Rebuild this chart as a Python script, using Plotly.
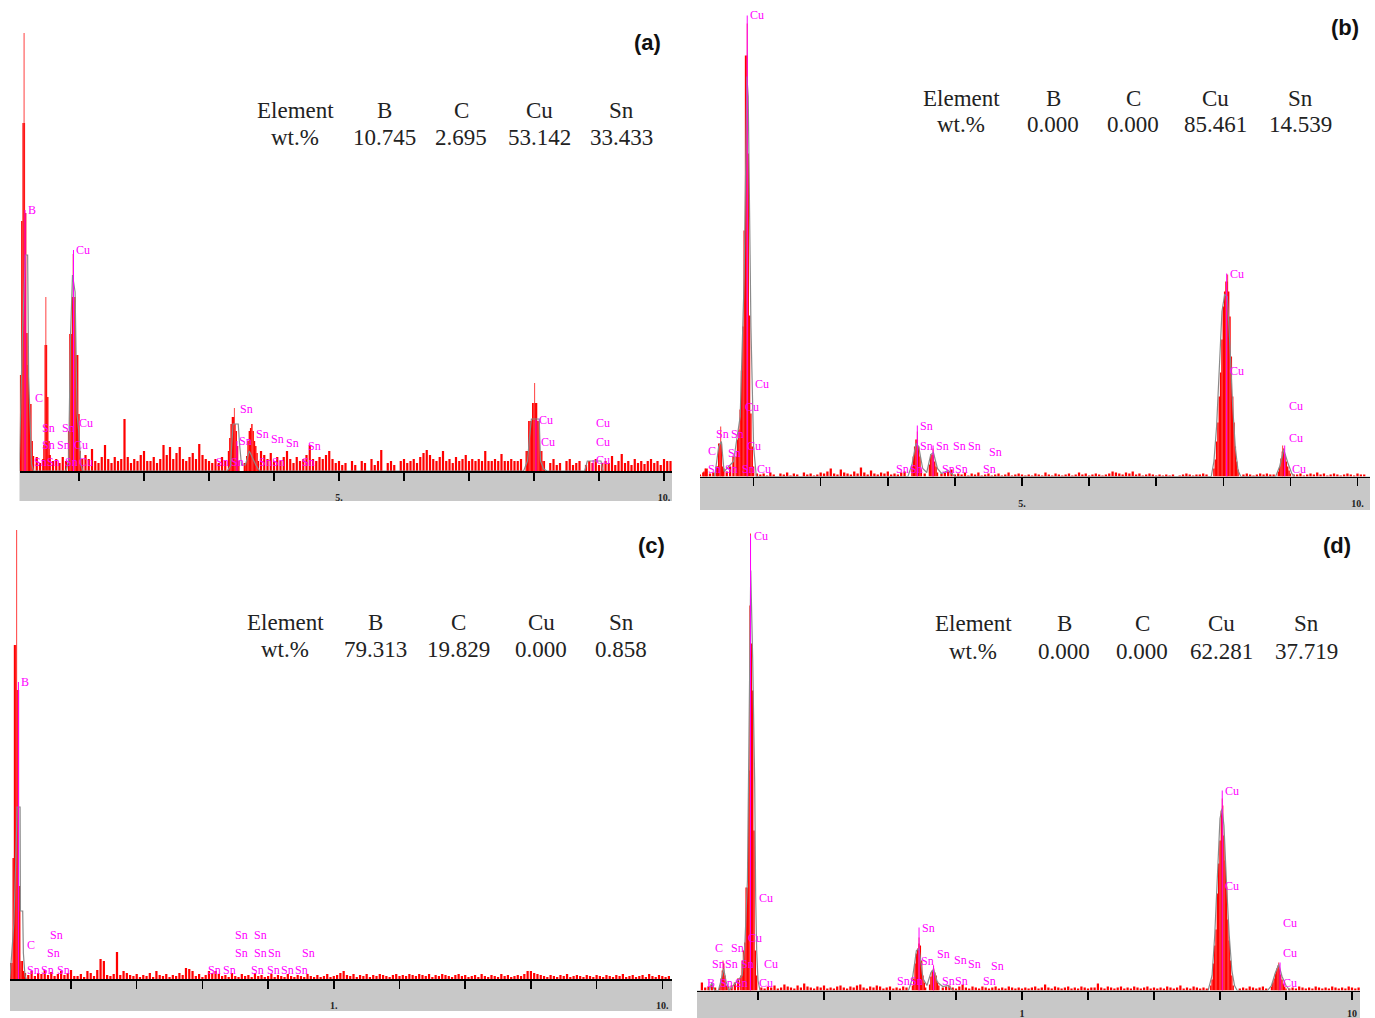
import numpy as np
import plotly.graph_objects as go

W, H = 1375, 1018

# ---------------- common data ----------------
BG_START_KEV = 0.10
BG_STEP_KEV = 0.05
tick_keV = [1, 2, 3, 4, 5, 6, 7, 8, 9, 10]
elements = ["B", "C", "Cu", "Sn"]
wt_a = ["10.745", "2.695", "53.142", "33.433"]
wt_b = ["0.000", "0.000", "85.461", "14.539"]
wt_c = ["79.313", "19.829", "0.000", "0.858"]
wt_d = ["0.000", "0.000", "62.281", "37.719"]
ticktext_a = ["", "", "", "", "5.", "", "", "", "", "10."]
ticktext_b = ["", "", "", "", "5.", "", "", "", "", "10."]
ticktext_c = ["", "", "", "", "1.", "", "", "", "", "10."]
ticktext_d = ["", "", "", "", "1", "", "", "", "", "10"]

# ---------------- panel (a) ----------------
a_bg = ([0,0,0,0,0,14,8,12,0,16,10,12,8,14,10,0,0,0,0,12] +
        [16,12,22,10,8,14,26,12,8,14,10,12,52,14,8,12,10,16,20,10] +
        [10,14,8,12,26,16,24,12,18,24,12,10,14,18,12,27,16,12,10,8] +
        [12,8,14,10,0,0,0,0,0,8,0,0,0,0,20,16,12,18,10,14] +
        [10,14,20,12,8,14,10,12,16,26,12,10,14,12,16,20,12,8,10,6] +
        [8,0,10,6,0,10,8,0,12,6,10,21,0,8,10,6,0,10,12,8] +
        [10,12,8,14,18,21,16,12,10,14,20,10,12,8,14,10,12,16,10,12] +
        [10,12,10,20,10,10,12,10,17,10,10,12,10,10,12,0,0,0,0,0] +
        [0,0,0,8,12,6,8,0,10,12,6,8,10,0,6,10,8,12,6,8] +
        [10,8,15,6,10,17,8,10,6,12,8,10,7,10,12,8,10,6,12,10] + [10])
a_pk_keV = [0.10,0.12,0.14,0.16,0.18,0.20,0.22,0.24,0.26,0.28,0.30,
            0.46,0.48,0.50,0.52,0.54,
            0.84,0.86,0.88,0.90,0.92,0.94,0.96,0.98,1.00,1.02,
            3.30,3.32,3.34,3.36,3.38,3.40,3.42,3.44,3.46,
            3.58,3.60,3.62,3.64,3.66,3.68,3.70,3.72,3.74,3.76,
            7.88,7.90,7.92,7.94,7.96,7.98,8.00,8.02,8.04,8.06,8.08,8.10,8.12,8.14,8.16]
a_pk_cnt = [96,250,348,348,258,138,106,67,67,30,15,
            26,126,126,74,30,
            40,137,137,174,174,174,116,116,57,20,
            20,33,47,54,54,47,40,25,10,
            15,30,40,43,47,40,30,25,18,10,
            20,20,50,50,50,68,68,68,68,50,50,20,20,10,10]
a_spk_keV = [0.155, 0.49, 0.91, 3.39, 8.01]
a_spk_cnt = [438, 174, 217, 63, 88]
a_fit_keV = [0.08,0.10,0.13,0.175,0.21,0.225,0.24,0.27,0.30,
             0.80,0.84,0.87,0.90,0.94,0.97,1.00,1.03,1.06,
             3.28,3.33,3.37,3.45,3.47,3.50,3.56,3.62,3.72,3.78,
             7.84,7.90,7.93,7.96,8.08,8.10,8.15,8.20,
             8.78,8.82,9.03,9.06]
a_fit_cnt = [0,70,137,216,216,94,57,7,0,
             0,10,137,196,179,57,37,6,0,
             0,5,47,47,27,6,6,20,6,0,
             0,10,33,52,52,10,2,0,
             0,10,10,0]
a_lbl_txt = ["B","C","Cu","Cu","Sn","Sn","Sn","Sn","Cu","Sn","Sn","Sn","Cu",
             "Sn","Sn","Sn","Sn","Sn","Sn","Sn","Sn","Sn","Sn","Sn",
             "Cu","Cu","Cu","Cu","Cu"]
a_lbl_keV = [0.17,0.27,0.915,0.95,0.39,0.69,0.385,0.615,0.87,0.26,0.46,0.74,0.95,
             3.43,3.42,3.67,3.91,4.14,4.47,3.06,3.29,3.72,3.93,4.38,
             8.03,8.06,8.91,8.91,8.91]
a_lbl_cnt = [261,73,221,48,43,43,26,26,26,9,9,9,9,
             62,30,37,32,28,25,9,9,9,9,9,
             51,29,48,29,11]
a_line_keV = [0.17, 0.915, 3.43, 8.03, 8.91]
a_line_cnt = [261, 221, 30, 51, 11]

# ---------------- panel (b) ----------------
b_bg = ([0,0,2,4,8,3,4,10,0,8,5,10,20,0,0,0,0,0,0,3] +
        [2,3,1,4,2,0,3,2,4,1,3,2,0,4,2,3,1,2,4,3] +
        [5,8,3,2,7,4,3,2,5,3,9,4,2,6,3,2,4,3,5,2] +
        [3,2,4,5,0,0,0,0,0,3,0,0,0,0,3,4,5,7,2,3] +
        [2,4,1,3,2,4,1,2,3,1,2,3,1,2,4,1,2,3,2,1] +
        [2,1,3,2,1,4,2,1,3,2,1,2,3,1,2,4,2,3,1,2] +
        [3,2,1,2,3,5,4,3,2,4,3,5,2,3,1,2,3,2,1,2] +
        [1,2,1,2,0,1,2,3,2,1,2,2,3,2,0,0,0,0,0,0] +
        [0,0,0,0,2,3,2,1,2,3,2,3,2,2,0,0,0,0,0,2] +
        [2,3,1,2,3,2,4,2,3,1,2,3,2,1,2,3,2,1,3,2] + [2])
b_pk_keV = [0.26,0.28,0.30,
            0.46,0.48,0.50,0.52,0.54,
            0.74,0.76,0.78,0.80,0.82,0.84,0.86,0.88,0.90,0.92,0.94,0.96,0.98,1.00,
            3.36,3.38,3.40,3.42,3.44,3.46,3.48,3.50,
            3.62,3.64,3.66,3.68,3.70,3.72,3.74,
            7.86,7.88,7.90,7.92,7.94,7.96,7.98,8.00,8.02,8.04,8.06,8.08,8.10,8.12,8.14,8.16,8.18,8.20,8.22,
            8.82,8.84,8.86,8.88,8.90,8.92,8.94,8.96,8.98,9.00]
b_pk_cnt = [5,8,5,
            10,33,33,33,10,
            20,37,47,67,106,150,246,421,421,323,161,63,30,10,
            10,20,30,37,37,30,20,7,
            12,22,22,22,15,10,4,
            8,17,35,54,80,104,137,170,185,195,195,185,160,120,80,54,30,15,7,
            5,10,18,25,28,22,15,10,6,3]
b_spk_keV = [0.51, 0.905, 3.44, 3.675, 8.065, 8.885]
b_spk_cnt = [50, 453, 45, 28, 202, 31]
b_fit_keV = [0.42,0.48,0.52,0.56,
             0.70,0.80,0.86,0.90,0.92,0.96,1.00,1.04,
             3.30,3.36,3.42,3.46,3.52,3.58,3.64,3.68,3.74,3.80,3.90,3.96,4.00,
             7.82,7.86,7.90,7.94,7.98,8.02,8.06,8.10,8.14,8.18,8.22,8.26,
             8.78,8.84,8.90,8.96,9.02,9.06]
b_fit_cnt = [0,30,35,5,
             15,60,200,400,380,150,30,0,
             0,12,33,30,8,4,22,24,8,3,6,2,0,
             0,15,50,110,165,182,180,130,70,28,6,0,
             0,10,27,14,3,0]
b_lbl_txt = ["Cu","Cu","Cu","Sn","Sn","C","Sn","Cu","Sn","Sn","Sn","Cu",
             "Sn","Sn","Sn","Sn","Sn","Sn","Sn","Sn","Sn","Sn","Sn",
             "Cu","Cu","Cu","Cu","Cu"]
b_lbl_keV = [0.905,0.97,0.82,0.39,0.62,0.28,0.58,0.85,0.28,0.53,0.78,1.00,
             3.44,3.44,3.68,3.93,4.15,4.47,3.08,3.29,3.76,3.96,4.38,
             8.05,8.05,8.93,8.93,8.98]
b_lbl_cnt = [461,93,70,43,43,26,24,31,8,8,8,8,
             51,31,31,31,31,25,8,8,8,8,8,
             203,106,71,39,8]
b_line_keV = [0.905, 3.44, 3.675, 8.05, 8.915]
b_line_cnt = [461, 51, 31, 203, 31]

# ---------------- panel (c) ----------------
c_bg = ([0,0,0,0,6,4,8,3,6,5,9,4,7,3,5,8,4,6,9,3] +
        [3,5,2,8,6,3,9,20,18,4,3,5,27,4,8,6,4,3,5,2] +
        [4,3,6,2,8,4,3,5,2,4,3,6,4,11,10,8,3,5,2,4] +
        [8,6,8,5,3,4,2,6,3,2,5,3,4,2,6,3,4,2,3,5] +
        [2,4,3,2,5,3,2,4,3,2,5,3,2,4,2,3,5,2,3,4] +
        [6,8,4,3,5,2,4,3,5,2,4,3,5,4,3,2,4,5,3,4] +
        [3,5,4,3,5,4,3,5,2,4,3,5,4,3,2,4,5,3,4,2] +
        [3,4,2,5,3,2,4,3,2,5,3,4,2,3,4,3,5,8,8,6] +
        [5,4,3,2,4,3,2,4,3,5,2,3,4,3,2,4,3,2,4,3] +
        [2,4,3,2,4,3,5,2,3,4,2,3,4,2,5,3,2,4,3,2] + [3])
c_pk_keV = [0.08,0.10,0.12,0.14,0.16,0.18,0.20,0.22,0.24,0.26,0.28]
c_pk_cnt = [16,16,121,334,334,289,289,93,18,18,8]
c_spk_keV = [0.173]
c_spk_cnt = [449]
c_fit_keV = [0.07,0.09,0.13,0.16,0.18,0.225,0.23,0.265,0.275,0.30,0.32]
c_fit_cnt = [0,20,55,120,172,172,68,68,26,3,0]
c_lbl_txt = ["B","C","Sn","Sn","Sn","Sn","Sn",
             "Sn","Sn","Sn","Sn","Sn","Sn","Sn","Sn","Sn","Sn","Sn","Sn"]
c_lbl_keV = [0.20,0.285,0.64,0.59,0.285,0.50,0.74,
             3.45,3.74,3.45,3.74,3.95,4.47,3.04,3.27,3.69,3.94,4.15,4.36]
c_lbl_cnt = [297,34,44,26,9,9,9,
             44,44,26,26,26,26,9,9,9,9,9,9]
c_line_keV = [0.20]
c_line_cnt = [297]

# ---------------- panel (d) ----------------
d_bg = ([0,8,3,4,6,3,0,0,0,4,5,8,12,0,0,0,0,0,0,3] +
        [2,4,3,5,2,3,6,4,3,2,5,3,7,4,3,2,4,3,5,2] +
        [3,2,4,5,3,2,4,3,5,6,3,2,4,3,5,4,2,3,4,2] +
        [3,2,4,3,0,0,0,0,0,0,0,0,0,0,3,4,5,3,2,4] +
        [6,3,2,4,3,2,4,3,2,3,4,2,3,2,4,3,2,3,2,3] +
        [2,3,4,2,3,6,3,2,4,3,2,3,4,2,3,2,4,3,2,3] +
        [3,7,3,2,4,3,2,3,4,2,3,2,4,3,2,3,4,2,3,2] +
        [3,2,4,3,2,3,5,2,3,2,4,3,2,3,2,0,0,0,0,0] +
        [0,0,0,0,2,3,2,4,3,2,3,4,2,0,0,0,0,0,0,2] +
        [3,2,4,3,2,3,2,4,3,2,3,2,4,3,2,3,2,4,3,2] + [3])
d_pk_keV = [0.42,0.44,0.46,0.48,0.50,0.52,
            0.74,0.76,0.78,0.80,0.82,0.84,0.86,0.88,0.90,0.92,0.94,0.96,0.98,
            3.34,3.36,3.38,3.40,3.42,3.44,3.46,3.48,3.50,3.52,3.54,
            3.60,3.62,3.64,3.66,3.68,3.70,3.72,3.74,
            7.86,7.88,7.90,7.92,7.94,7.96,7.98,8.00,8.02,8.04,8.06,8.08,8.10,8.12,8.14,8.16,8.18,8.20,
            8.78,8.80,8.82,8.84,8.86,8.88,8.90,8.92,8.94,8.96,8.98,9.00]
d_pk_cnt = [5,12,20,27,15,5,
            15,30,40,48,103,103,220,385,347,300,160,40,15,
            5,12,27,37,42,47,45,30,15,8,3,
            6,14,20,22,18,15,9,5,
            5,11,27,45,61,97,127,150,180,185,155,130,104,71,50,30,15,5,
            4,8,12,17,22,25,22,16,11,7,4,2]
d_spk_keV = [0.47, 0.887, 3.44, 3.66, 8.034, 8.89]
d_spk_cnt = [30, 457, 53, 25, 192, 28]
d_fit_keV = [0.26,0.30,0.34,
             0.40,0.44,0.48,0.52,0.56,
             0.76,0.80,0.84,0.87,0.89,0.92,0.95,0.965,0.98,1.00,1.03,
             3.28,3.34,3.40,3.44,3.50,3.56,3.62,3.66,3.72,3.80,3.88,3.95,
             7.82,7.88,7.92,7.96,8.00,8.03,8.06,8.10,8.14,8.18,8.22,8.26,
             8.72,8.78,8.84,8.89,8.94,9.00,9.06]
d_fit_cnt = [0,8,0,
             0,10,22,8,0,
             15,45,110,300,420,330,207,93,40,10,0,
             0,12,40,42,12,5,18,21,8,4,5,0,
             0,15,55,118,172,182,165,105,55,20,5,0,
             0,5,18,26,14,5,0]
d_lbl_txt = ["Cu","Cu","Cu","C","Sn","Sn","Sn","Sn","Cu","B","Sn","Sn","Cu",
             "Sn","Sn","Sn","Sn","Sn","Sn","Sn","Sn","Sn","Sn","Sn",
             "Cu","Cu","Cu","Cu","Cu"]
d_lbl_keV = [0.887,0.965,0.81,0.31,0.55,0.26,0.46,0.69,1.04,0.18,0.38,0.60,0.965,
             3.44,3.43,3.67,3.92,4.14,4.48,3.06,3.26,3.74,3.94,4.37,
             8.03,8.03,8.91,8.91,8.91]
d_lbl_cnt = [455,93,53,43,43,27,27,27,27,8,8,8,8,
             63,30,37,31,27,25,10,10,10,10,10,
             200,105,68,38,8]
d_line_keV = [0.887, 3.44, 3.66, 8.034, 8.91]
d_line_cnt = [455, 63, 25, 200, 28]

# ---------------- geometry / style (pixels of the page) ----------------
geo = {
    "a": dict(left=19.5, right=672, top=30, base=471, band=501, zero=14.0, ppk=65.0, standoff=8,
              cols=[295, 384, 461, 539, 621], rows=[110, 137], title=(647, 42)),
    "b": dict(left=700, right=1370, top=10, base=476.5, band=510, zero=686.5, ppk=67.1, standoff=9,
              cols=[961, 1053, 1133, 1215, 1300], rows=[98, 125], title=(1345, 27)),
    "c": dict(left=10, right=672, top=520, base=979, band=1011, zero=5.3, ppk=65.7, standoff=8,
              cols=[285, 375, 458, 541, 621], rows=[622, 649], title=(651, 545)),
    "d": dict(left=697, right=1360, top=525, base=990.5, band=1018, zero=692.0, ppk=66.0, standoff=5,
              cols=[973, 1064, 1142, 1221, 1306], rows=[623, 651], title=(1337, 545)),
}

RED = "#ff0000"
SPIKE = "#ff2d2d"
FIT = "#8a8a8a"
MAG = "#ff00ff"
BAND = "#c8c8c8"

fig = go.Figure()
annotations = []
shapes = []

panels = [
    ("a", a_bg, a_pk_keV, a_pk_cnt, a_spk_keV, a_spk_cnt, a_fit_keV, a_fit_cnt,
     a_lbl_txt, a_lbl_keV, a_lbl_cnt, a_line_keV, a_line_cnt, ticktext_a, wt_a),
    ("b", b_bg, b_pk_keV, b_pk_cnt, b_spk_keV, b_spk_cnt, b_fit_keV, b_fit_cnt,
     b_lbl_txt, b_lbl_keV, b_lbl_cnt, b_line_keV, b_line_cnt, ticktext_b, wt_b),
    ("c", c_bg, c_pk_keV, c_pk_cnt, c_spk_keV, c_spk_cnt, c_fit_keV, c_fit_cnt,
     c_lbl_txt, c_lbl_keV, c_lbl_cnt, c_line_keV, c_line_cnt, ticktext_c, wt_c),
    ("d", d_bg, d_pk_keV, d_pk_cnt, d_spk_keV, d_spk_cnt, d_fit_keV, d_fit_cnt,
     d_lbl_txt, d_lbl_keV, d_lbl_cnt, d_line_keV, d_line_cnt, ticktext_d, wt_d),
]

layout_axes = {}
for i, (name, bg, pk_e, pk_c, sp_e, sp_c, ft_e, ft_c, lt, le, lc, ne, nc, ttext, wt) in enumerate(panels, start=1):
    g = geo[name]
    xa = "x" if i == 1 else f"x{i}"
    ya = "y" if i == 1 else f"y{i}"
    bg_keV = BG_START_KEV + BG_STEP_KEV * np.arange(len(bg))

    fig.add_trace(go.Bar(x=bg_keV, y=bg, width=0.034, marker=dict(color=RED, line=dict(width=0)),
                         xaxis=xa, yaxis=ya, showlegend=False, hoverinfo="skip"))
    fig.add_trace(go.Bar(x=pk_e, y=pk_c, width=0.021, marker=dict(color=RED, line=dict(width=0)),
                         xaxis=xa, yaxis=ya, showlegend=False, hoverinfo="skip"))
    fig.add_trace(go.Bar(x=sp_e, y=sp_c, width=0.014, marker=dict(color=SPIKE, line=dict(width=0)),
                         xaxis=xa, yaxis=ya, showlegend=False, hoverinfo="skip"))
    fig.add_trace(go.Scatter(x=ft_e, y=ft_c, mode="lines", line=dict(color=FIT, width=1.2),
                             xaxis=xa, yaxis=ya, showlegend=False, hoverinfo="skip"))
    lx, ly = [], []
    for e, c in zip(ne, nc):
        lx += [e, e, None]
        ly += [0, c, None]
    fig.add_trace(go.Scatter(x=lx, y=ly, mode="lines", line=dict(color=MAG, width=1),
                             xaxis=xa, yaxis=ya, showlegend=False, hoverinfo="skip"))
    for t, e, c in zip(lt, le, lc):
        annotations.append(dict(x=e, y=c, xref=xa, yref=ya, text=t, showarrow=False,
                                xanchor="left", yanchor="middle", xshift=1,
                                font=dict(family="Liberation Serif", size=12, color=MAG)))

    xkey = "xaxis" if i == 1 else f"xaxis{i}"
    ykey = "yaxis" if i == 1 else f"yaxis{i}"
    layout_axes[xkey] = dict(
        domain=[g["left"] / W, g["right"] / W],
        range=[(g["left"] - g["zero"]) / g["ppk"], (g["right"] - g["zero"]) / g["ppk"]],
        anchor=ya, showline=True, linecolor="black", linewidth=1.5,
        ticks="outside", ticklen=8, tickwidth=1.5, tickcolor="black",
        tickmode="array", tickvals=tick_keV, ticktext=ttext,
        tickfont=dict(family="Liberation Serif", size=10, color="#222222", weight="bold"),
        ticklabelstandoff=g["standoff"], showgrid=False, zeroline=False, fixedrange=True)
    layout_axes[ykey] = dict(
        domain=[1 - g["base"] / H, 1 - g["top"] / H], range=[0, g["base"] - g["top"]],
        anchor=xa, visible=False, showgrid=False, zeroline=False, fixedrange=True)

    shapes.append(dict(type="rect", xref="paper", yref="paper",
                       x0=g["left"] / W, x1=g["right"] / W,
                       y0=1 - g["band"] / H, y1=1 - g["base"] / H,
                       fillcolor=BAND, line=dict(width=0), layer="below"))

    # composition table
    row1 = ["Element"] + elements
    row2 = ["wt.%"] + wt
    for r, row in enumerate([row1, row2]):
        for cx, txt in zip(g["cols"], row):
            annotations.append(dict(x=cx / W, y=1 - g["rows"][r] / H, xref="paper", yref="paper",
                                    text=txt, showarrow=False, xanchor="center", yanchor="middle",
                                    font=dict(family="Liberation Serif", size=23, color="#222222")))
    tx, ty = g["title"]
    annotations.append(dict(x=tx / W, y=1 - ty / H, xref="paper", yref="paper",
                            text=f"({name})", showarrow=False, xanchor="center", yanchor="middle",
                            font=dict(family="Liberation Sans", size=22, color="#111111", weight="bold")))

fig.update_layout(
    width=W, height=H, margin=dict(l=0, r=0, t=0, b=0),
    paper_bgcolor="white", plot_bgcolor="rgba(0,0,0,0)",
    barmode="overlay", showlegend=False,
    annotations=annotations, shapes=shapes, **layout_axes)

fig.write_html("out.html", config={"displayModeBar": False, "staticPlot": True},
               post_script="document.body.style.margin='0px';document.body.style.overflow='hidden';")
